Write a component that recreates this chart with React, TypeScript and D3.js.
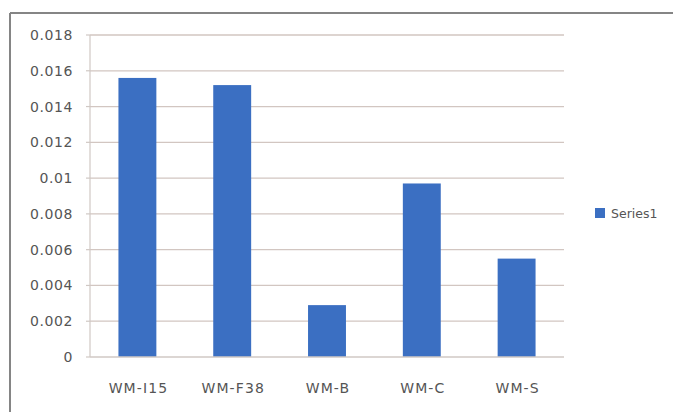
import React from "react";
import * as d3 from "d3";

// Chart data
const categories = ["WM-I15", "WM-F38", "WM-B", "WM-C", "WM-S"];
const series1 = [0.0156, 0.0152, 0.0029, 0.0097, 0.0055];
const yTicks = [0, 0.002, 0.004, 0.006, 0.008, 0.01, 0.012, 0.014, 0.016, 0.018];
const yTickLabels = ["0", "0.002", "0.004", "0.006", "0.008", "0.01", "0.012", "0.014", "0.016", "0.018"];
const seriesName = "Series1";

const W = 673;
const H = 412;
const plot = { left: 90, right: 564, top: 35, bottom: 357 };

const BAR = "#3b6fc2";
const GRID = "#d2c6c1";
const AXIS = "#d0c8c4";
const TEXT = "#555555";
const FONT = "'DejaVu Sans', sans-serif";

export default function App() {
  const x = d3
    .scaleBand<string>()
    .domain(categories)
    .range([plot.left, plot.right])
    .paddingInner(0.6)
    .paddingOuter(0.3);
  const y = d3.scaleLinear().domain([0, 0.018]).range([plot.bottom, plot.top]);

  return (
    <svg
      width={W}
      height={H}
      style={{ position: "absolute", left: 0, top: 0, background: "#ffffff" }}
    >
      <rect x={0} y={0} width={W} height={H} fill="#ffffff" />
      {/* chart frame */}
      <line x1={10} y1={13} x2={W} y2={13} stroke="#858585" strokeWidth={2} />
      <line x1={10} y1={13} x2={10} y2={H} stroke="#858585" strokeWidth={2} />

      {/* gridlines */}
      {yTicks.slice(1).map((t) => (
        <line
          key={"g" + t}
          x1={plot.left}
          x2={plot.right}
          y1={y(t)}
          y2={y(t)}
          stroke={GRID}
          strokeWidth={1.3}
        />
      ))}

      {/* y axis */}
      <line x1={plot.left} x2={plot.left} y1={plot.top} y2={plot.bottom} stroke={AXIS} strokeWidth={1.2} />
      {yTicks.map((t, i) => (
        <g key={"yt" + t}>
          <line x1={plot.left - 4} x2={plot.left} y1={y(t)} y2={y(t)} stroke={AXIS} strokeWidth={1.2} />
          <text
            x={73}
            y={y(t)}
            textAnchor="end"
            dominantBaseline="central"
            fontFamily={FONT}
            fontSize={14}
            letterSpacing={0.6}
            fill={TEXT}
          >
            {yTickLabels[i]}
          </text>
        </g>
      ))}

      {/* bars */}
      {categories.map((c, i) => (
        <rect
          key={"b" + c}
          x={x(c)}
          y={y(series1[i])}
          width={x.bandwidth()}
          height={y(0) - y(series1[i])}
          fill={BAR}
        />
      ))}

      {/* x axis */}
      <line x1={plot.left} x2={plot.right} y1={plot.bottom} y2={plot.bottom} stroke={AXIS} strokeWidth={1.5} />
      {categories.map((c) => (
        <text
          key={"xl" + c}
          x={(x(c) as number) + x.bandwidth() / 2 + 1}
          y={388}
          textAnchor="middle"
          dominantBaseline="central"
          fontFamily={FONT}
          fontSize={14}
          letterSpacing={1.1}
          fill={TEXT}
        >
          {c}
        </text>
      ))}

      {/* legend */}
      <rect x={595} y={208} width={10} height={10} fill={BAR} />
      <text
        x={611}
        y={213.5}
        dominantBaseline="central"
        fontFamily={FONT}
        fontSize={12.5}
        fill={TEXT}
      >
        {seriesName}
      </text>
    </svg>
  );
}
